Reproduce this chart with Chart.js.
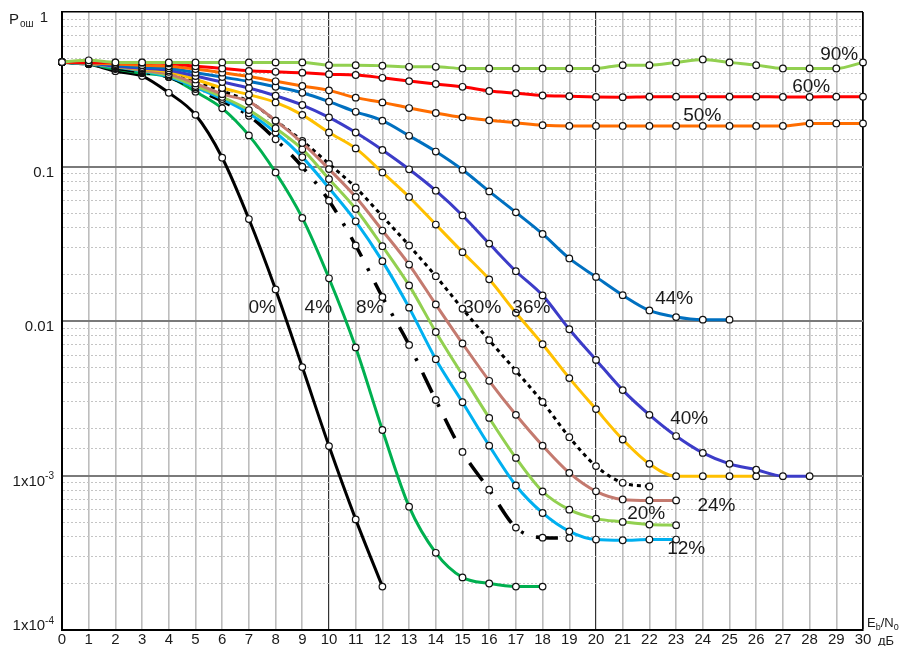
<!DOCTYPE html>
<html>
<head>
<meta charset="utf-8">
<script src="https://cdn.jsdelivr.net/npm/chart.js@4.4.0/dist/chart.umd.min.js"></script>
<style>
  body { margin: 0; background: #fff; }
  canvas { display: block; }
</style>
</head>
<body>
<canvas id="berChart" width="900" height="646"></canvas>
<script>
// Eb/N0, dB
const ebn0 = [0,1,2,3,4,5,6,7,8,9,10,11,12,13,14,15,16,17,18,19,20,21,22,23,24,25,26,27,28,29,30];

// error probability per curve (index = Eb/N0)
const ber0  = [0.474,0.460,0.414,0.385,0.300,0.216,0.114,0.0457,0.0160,0.00503,0.00155,0.000520,0.000191];
const ber4  = [0.474,0.460,0.427,0.402,0.379,0.305,0.238,0.159,0.0915,0.0465,0.0189,0.00674,0.00197,0.000628,0.000316,0.000219,0.000200,0.000191,0.000191];
const ber8  = [0.474,0.460,0.433,0.408,0.379,0.317,0.265,0.213,0.150,0.0996,0.0601,0.0308,0.0143,0.00700,0.00308,0.00142,0.000809,0.000460,0.000396,0.000394];
const ber12 = [0.474,0.460,0.440,0.414,0.381,0.325,0.273,0.221,0.166,0.115,0.0725,0.0442,0.0244,0.0122,0.00566,0.00298,0.00156,0.000862,0.000572,0.000435,0.000385,0.000381,0.000385,0.000385];
const ber20 = [0.474,0.464,0.443,0.418,0.388,0.332,0.282,0.232,0.177,0.1295,0.0829,0.0531,0.0305,0.0170,0.00849,0.00446,0.00236,0.00130,0.000788,0.000601,0.000526,0.000501,0.000481,0.000477];
const ber24 = [0.474,0.464,0.446,0.420,0.396,0.345,0.294,0.263,0.198,0.142,0.0962,0.0635,0.0385,0.0232,0.0128,0.00715,0.00410,0.00247,0.00156,0.00104,0.00079,0.00070,0.00069,0.00069];
const ber30 = [0.474,0.464,0.446,0.420,0.402,0.357,0.308,0.263,0.198,0.1465,0.104,0.0731,0.0476,0.0308,0.0195,0.0120,0.00751,0.00476,0.00299,0.00177,0.00115,0.000897,0.000849];
const ber36 = [0.474,0.467,0.446,0.427,0.410,0.366,0.322,0.292,0.260,0.216,0.166,0.131,0.0915,0.0635,0.0421,0.0279,0.0186,0.0113,0.00707,0.00427,0.00269,0.00171,0.00119,0.00099,0.00099,0.00099,0.00099];
const ber40 = [0.474,0.467,0.446,0.433,0.420,0.385,0.352,0.322,0.287,0.250,0.208,0.166,0.128,0.0959,0.0697,0.0482,0.0317,0.0210,0.01465,0.00884,0.00560,0.00357,0.00247,0.00180,0.00140,0.00119,0.00109,0.00099,0.00099];
const ber44 = [0.474,0.467,0.453,0.440,0.433,0.405,0.379,0.355,0.328,0.300,0.263,0.226,0.198,0.158,0.125,0.0952,0.0690,0.0505,0.0366,0.0254,0.0193,0.0147,0.0117,0.0106,0.0102,0.0102];
const ber50 = [0.474,0.467,0.460,0.453,0.446,0.427,0.405,0.382,0.356,0.332,0.311,0.279,0.260,0.239,0.222,0.208,0.199,0.192,0.185,0.183,0.183,0.183,0.183,0.183,0.183,0.183,0.183,0.183,0.190,0.190,0.190];
const ber60 = [0.474,0.472,0.472,0.470,0.465,0.446,0.431,0.416,0.410,0.405,0.396,0.391,0.375,0.357,0.342,0.328,0.308,0.298,0.288,0.285,0.282,0.281,0.283,0.283,0.283,0.283,0.283,0.282,0.282,0.283,0.283];
const ber90 = [0.474,0.487,0.472,0.472,0.472,0.472,0.472,0.472,0.472,0.472,0.453,0.453,0.449,0.442,0.442,0.431,0.431,0.431,0.431,0.431,0.431,0.453,0.453,0.472,0.493,0.472,0.453,0.431,0.431,0.431,0.472];

// curve captions and where they sit (data coordinates)
const captionText = ['0%','4%','8%','30%','36%','44%','40%','24%','20%','12%','50%','60%','90%'];
const captionX    = [7.5, 9.6, 11.53, 15.74, 17.58, 22.93, 23.49, 24.51, 21.88, 23.38, 23.98, 28.06, 29.11];
const captionY    = [0.0121, 0.0121, 0.0121, 0.0121, 0.0121, 0.0140, 0.00232, 0.000637, 0.000566, 0.000337, 0.2124, 0.3267, 0.5255];

// y axis labels
const yTickValues = [1, 0.1, 0.01, 0.001, 0.0001];
const yTickMain   = ['1', '0.1', '0.01', '1x10', '1x10'];
const yTickExp    = ['', '', '', '-3', '-4'];

const series = [
  { values: ber90, color: '#92d050' },
  { values: ber60, color: '#ff0000' },
  { values: ber50, color: '#ff6d00' },
  { values: ber44, color: '#0070c0' },
  { values: ber40, color: '#3c3cc8' },
  { values: ber36, color: '#ffc000' },
  { values: ber24, color: '#c47a6f' },
  { values: ber20, color: '#92d050' },
  { values: ber12, color: '#00b0f0' },
  { values: ber30, color: '#000000', dash: [4, 4] },
  { values: ber8,  color: '#000000', dash: [22, 13, 3, 13], width: 3.5 },
  { values: ber4,  color: '#00b050' },
  { values: ber0,  color: '#000000' }
];

function isDecade(v) {
  const m = Math.log10(v);
  return Math.abs(m - Math.round(m)) < 1e-9;
}

const textPlugin = {
  id: 'texts',
  afterDraw(chart) {
    const ctx = chart.ctx;
    const xs = chart.scales.x;
    const ys = chart.scales.y;
    ctx.save();
    ctx.fillStyle = '#1a1a1a';

    // y labels
    yTickValues.forEach((v, i) => {
      let py = ys.getPixelForValue(v) + 6;
      if (v === ys.min) py = ys.getPixelForValue(v) - 4;
      const right = v === 1 ? 48 : 54;
      ctx.font = '15px Arial';
      const wMain = ctx.measureText(yTickMain[i]).width;
      ctx.font = '10px Arial';
      const wExp = yTickExp[i] ? ctx.measureText(yTickExp[i]).width : 0;
      const left = right - wMain - wExp;
      ctx.textBaseline = 'middle';
      ctx.textAlign = 'left';
      ctx.font = '15px Arial';
      ctx.fillText(yTickMain[i], left, py);
      if (yTickExp[i]) {
        ctx.font = '10px Arial';
        ctx.fillText(yTickExp[i], left + wMain, py - 5);
      }
    });

    // P ош
    ctx.textBaseline = 'alphabetic';
    ctx.textAlign = 'left';
    ctx.font = '15px Arial';
    ctx.fillText('P', 9, 24);
    ctx.font = '10px Arial';
    ctx.fillText('ош', 20, 27);

    // Eb/N0 dB
    ctx.font = '13px Arial';
    let x0 = 867;
    ctx.fillText('E', x0, 627);
    x0 += ctx.measureText('E').width;
    ctx.font = '9px Arial';
    ctx.fillText('b', x0, 630);
    x0 += ctx.measureText('b').width;
    ctx.font = '13px Arial';
    ctx.fillText('/N', x0, 627);
    x0 += ctx.measureText('/N').width;
    ctx.font = '9px Arial';
    ctx.fillText('0', x0, 630);
    ctx.font = '13px Arial';
    ctx.fillText('дБ', 878, 645);

    // curve captions
    ctx.font = '19px Arial';
    ctx.textAlign = 'center';
    ctx.textBaseline = 'middle';
    captionText.forEach((t, i) => {
      ctx.fillText(t, xs.getPixelForValue(captionX[i]), ys.getPixelForValue(captionY[i]));
    });
    ctx.restore();
  }
};

new Chart(document.getElementById('berChart'), {
  type: 'line',
  data: {
    datasets: series.map(s => ({
      data: s.values.map((v, i) => ({ x: ebn0[i], y: v })),
      borderColor: s.color,
      borderWidth: s.width || 3,
      borderDash: s.dash || [],
      pointRadius: 3.3,
      pointBackgroundColor: '#ffffff',
      pointBorderColor: '#111111',
      pointBorderWidth: 1.2,
      cubicInterpolationMode: 'monotone',
      fill: false,
      clip: false
    }))
  },
  options: {
    responsive: false,
    animation: false,
    devicePixelRatio: 1,
    layout: { padding: { top: 12, right: 37, left: 0, bottom: 0 } },
    plugins: { legend: { display: false }, tooltip: { enabled: false } },
    scales: {
      x: {
        type: 'linear',
        min: 0,
        max: 30,
        ticks: {
          stepSize: 1,
          autoSkip: false,
          maxRotation: 0,
          padding: 1,
          color: '#1a1a1a',
          font: { family: 'Arial', size: 15 }
        },
        grid: {
          drawTicks: false,
          color: c => {
            const v = c.tick ? c.tick.value : null;
            if (v === 10 || v === 20) return '#333333';
            if (v === 30 || v === 0) return '#000000';
            return '#bdbdbd';
          },
          lineWidth: c => {
            const v = c.tick ? c.tick.value : null;
            if (v === 10 || v === 20) return 1.2;
            if (v === 30) return 1.8;
            return 1.6;
          }
        },
        border: { color: '#000000', width: 2 },
        afterFit: s => { s.height = 16; }
      },
      y: {
        type: 'logarithmic',
        min: 0.0001,
        max: 1,
        ticks: { display: false },
        grid: {
          drawTicks: false,
          color: c => {
            if (!c.tick) return '#000000';
            const v = c.tick.value;
            if (v >= 1) return '#000000';
            return isDecade(v) ? '#7a7a7a' : '#c4c4c4';
          },
          lineWidth: c => {
            if (!c.tick) return 1;
            const v = c.tick.value;
            if (v >= 1) return 1.6;
            return isDecade(v) ? 2 : 1;
          }
        },
        border: {
          color: '#000000',
          width: 2,
          dash: c => (c.tick && !isDecade(c.tick.value) ? [2, 2] : [])
        },
        afterFit: s => { s.width = 62; }
      }
    }
  },
  plugins: [textPlugin]
});
</script>
</body>
</html>
